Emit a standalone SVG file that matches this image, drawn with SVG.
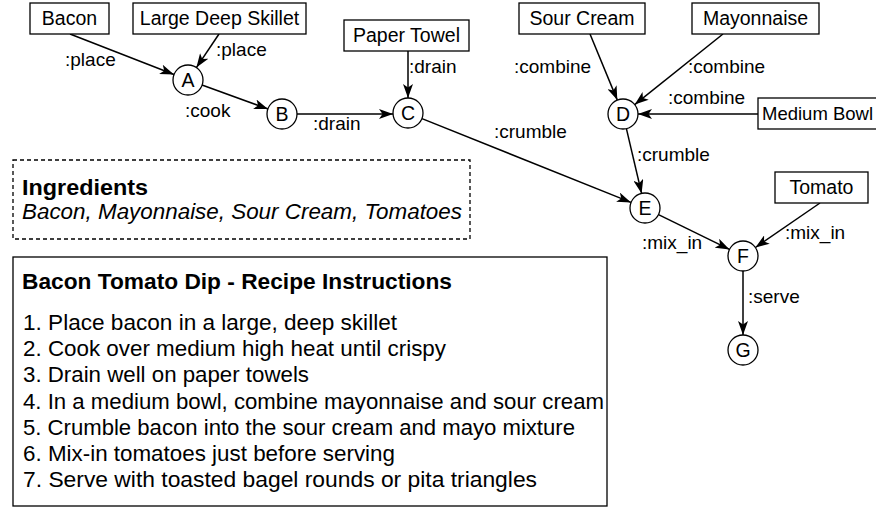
<svg xmlns="http://www.w3.org/2000/svg" width="876" height="508" viewBox="0 0 876 508">
<defs>
<marker id="arr" viewBox="0 0 14 10" refX="14" refY="5" markerWidth="14" markerHeight="10" markerUnits="userSpaceOnUse" orient="auto">
<path d="M0,0 L14,5 L0,10 L3.5,5 z" fill="#000"/>
</marker>
<style>
.box{fill:#fff;stroke:#000;stroke-width:1.3}
.circ{fill:#fff;stroke:#000;stroke-width:1.3}
.nt{font-family:"Liberation Sans",Arial,sans-serif;font-size:19.5px;fill:#000;text-anchor:middle}
.el{font-family:"Liberation Sans",Arial,sans-serif;font-size:19px;fill:#000}
.edge{stroke:#000;stroke-width:1.5;fill:none;marker-end:url(#arr)}
.bt{font-family:"Liberation Sans",Arial,sans-serif;font-size:22px;fill:#000}
</style>
</defs>
<rect width="876" height="508" fill="#fff"/>

<g id="connectors">
<line class="edge" x1="70" y1="34" x2="174" y2="74.5"/>
<line class="edge" x1="219" y1="34" x2="196.4" y2="67.6"/>
<line class="edge" x1="202" y1="85" x2="268" y2="109"/>
<line class="edge" x1="297" y1="114" x2="393" y2="114"/>
<line class="edge" x1="408" y1="51" x2="408" y2="98"/>
<line class="edge" x1="422" y1="118.6" x2="631" y2="202.4"/>
<line class="edge" x1="590" y1="34" x2="617.3" y2="100.1"/>
<line class="edge" x1="723" y1="34" x2="634.7" y2="104.6"/>
<line class="edge" x1="758" y1="114" x2="638" y2="114"/>
<line class="edge" x1="626.4" y1="128.6" x2="641.6" y2="193.4"/>
<line class="edge" x1="658.5" y1="214.6" x2="729.5" y2="249.4"/>
<line class="edge" x1="820" y1="203" x2="755.4" y2="247.5"/>
<line class="edge" x1="743" y1="271" x2="743" y2="335"/>
<text class="el" x="65" y="66">:place</text>
<text class="el" x="216" y="56">:place</text>
<text class="el" x="185" y="117">:cook</text>
<text class="el" x="313" y="130">:drain</text>
<text class="el" x="409" y="73">:drain</text>
<text class="el" x="494" y="138">:crumble</text>
<text class="el" x="514" y="73">:combine</text>
<text class="el" x="688" y="73">:combine</text>
<text class="el" x="668" y="104">:combine</text>
<text class="el" x="637" y="161">:crumble</text>
<text class="el" x="642" y="249">:mix_in</text>
<text class="el" x="785" y="239">:mix_in</text>
<text class="el" x="748" y="303">:serve</text>
</g>

<g id="bacon"><rect class="box" x="30" y="3" width="79" height="31"/><text class="nt" x="69.5" y="25">Bacon</text></g>
<g id="skillet"><rect class="box" x="133" y="3" width="173" height="31"/><text class="nt" x="219.5" y="25">Large Deep Skillet</text></g>
<g id="papertowel"><rect class="box" x="344" y="20" width="125" height="31"/><text class="nt" x="406.5" y="42">Paper Towel</text></g>
<g id="sourcream"><rect class="box" x="519" y="3" width="126" height="31"/><text class="nt" x="582" y="25">Sour Cream</text></g>
<g id="mayonnaise"><rect class="box" x="692" y="3" width="127" height="31"/><text class="nt" x="755.5" y="25">Mayonnaise</text></g>
<g id="mediumbowl"><rect class="box" x="758" y="98" width="125" height="31"/><text class="nt" x="762" y="120" style="text-anchor:start;font-size:18.5px">Medium Bowl</text></g>
<g id="tomato"><rect class="box" x="775" y="172" width="93" height="31"/><text class="nt" x="821.5" y="194">Tomato</text></g>

<g id="nA"><circle class="circ" cx="188" cy="80" r="15"/><text class="nt" x="188" y="87">A</text></g>
<g id="nB"><circle class="circ" cx="282" cy="114" r="15"/><text class="nt" x="282" y="121">B</text></g>
<g id="nC"><circle class="circ" cx="408" cy="113" r="15"/><text class="nt" x="408" y="120">C</text></g>
<g id="nD"><circle class="circ" cx="623" cy="114" r="15"/><text class="nt" x="623" y="121">D</text></g>
<g id="nE"><circle class="circ" cx="645" cy="208" r="15"/><text class="nt" x="645" y="215">E</text></g>
<g id="nF"><circle class="circ" cx="743" cy="256" r="15"/><text class="nt" x="743" y="263">F</text></g>
<g id="nG"><circle class="circ" cx="743" cy="350" r="15"/><text class="nt" x="743" y="357">G</text></g>

<g id="ingredients">
<rect x="13" y="160" width="457" height="79" fill="#fff" stroke="#000" stroke-width="1.3" stroke-dasharray="4,3"/>
<text class="bt" x="22" y="195" font-weight="bold" textLength="126" lengthAdjust="spacingAndGlyphs">Ingredients</text>
<text class="bt" x="22" y="219" font-style="italic" textLength="440" lengthAdjust="spacingAndGlyphs">Bacon, Mayonnaise, Sour Cream, Tomatoes</text>
</g>

<g id="instructions">
<rect x="13" y="257" width="594" height="249" fill="#fff" stroke="#000" stroke-width="1.3"/>
<text class="bt" x="22" y="289" font-weight="bold" textLength="430" lengthAdjust="spacingAndGlyphs">Bacon Tomato Dip - Recipe Instructions</text>
<text class="bt" x="23" y="330" textLength="374" lengthAdjust="spacingAndGlyphs">1. Place bacon in a large, deep skillet</text>
<text class="bt" x="23" y="356" textLength="423" lengthAdjust="spacingAndGlyphs">2. Cook over medium high heat until crispy</text>
<text class="bt" x="23" y="382" textLength="286" lengthAdjust="spacingAndGlyphs">3. Drain well on paper towels</text>
<text class="bt" x="23" y="409" textLength="581" lengthAdjust="spacingAndGlyphs">4. In a medium bowl, combine mayonnaise and sour cream</text>
<text class="bt" x="23" y="435" textLength="552" lengthAdjust="spacingAndGlyphs">5. Crumble bacon into the sour cream and mayo mixture</text>
<text class="bt" x="23" y="461" textLength="372" lengthAdjust="spacingAndGlyphs">6. Mix-in tomatoes just before serving</text>
<text class="bt" x="23" y="487" textLength="514" lengthAdjust="spacingAndGlyphs">7. Serve with toasted bagel rounds or pita triangles</text>
</g>
</svg>
